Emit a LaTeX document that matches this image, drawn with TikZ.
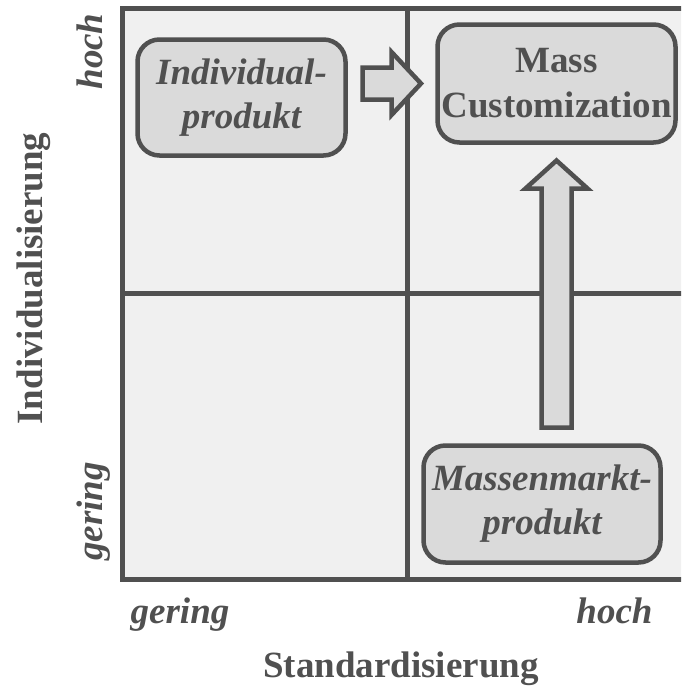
\documentclass[tikz,border=0pt]{standalone}
\usepackage{fontspec}
\setmainfont{Liberation Serif}
\definecolor{ink}{RGB}{80,80,80}
\definecolor{panel}{RGB}{240,240,240}
\definecolor{boxfill}{RGB}{218,218,218}
\begin{document}
\begin{tikzpicture}[x=1pt,y=-1pt,
  upright/.style={text=ink, font=\fontsize{37}{45}\selectfont\bfseries},
  slanted/.style={text=ink, font=\fontsize{37}{44}\selectfont\bfseries\itshape},
  quad/.style={draw=ink, line width=5pt},
  prodbox/.style={draw=ink, fill=boxfill, line width=4.5pt, rounded corners=22pt,
                  inner sep=0pt, align=center},
  blockarrow/.style={draw=ink, fill=boxfill, line width=4.5pt, line join=miter},
  scalelabel/.style={slanted, anchor=base},
]
\useasboundingbox (0,0) rectangle (681,694);

% portfolio grid (right edge runs past the page)
\begin{scope}
  \clip (0,0) rectangle (681,694);
  \draw[quad, fill=panel] (122.5,8.5) rectangle (691.5,579);
  \draw[quad] (407,8.5) -- (407,579);
  \draw[quad] (122.5,293) -- (691.5,293);
\end{scope}

% product types
\node[prodbox, slanted, minimum width=208pt, minimum height=116pt]
  (indiv) at (241.5,97.5) {Individual-\\produkt};
\node[prodbox, upright, minimum width=238pt, minimum height=118pt]
  (mass) at (556.5,83.5) {Mass\\Customization};
\node[prodbox, slanted, minimum width=237pt, minimum height=117pt]
  (markt) at (542,504) {Massenmarkt-\\produkt};

% development paths
\draw[blockarrow] (362.5,67.5) -- (391.5,67.5) -- (391.5,52) -- (421,83.5)
  -- (391.5,115) -- (391.5,99.5) -- (362.5,99.5) -- cycle;
\draw[blockarrow] (541.5,427.5) -- (541.5,188.5) -- (525.5,188.5) -- (556.5,160.5)
  -- (587.5,188.5) -- (571.5,188.5) -- (571.5,427.5) -- cycle;

% vertical axis
\node[upright, rotate=90, anchor=base] (yaxis) at (42,278.5) {Individualisierung};
\node[scalelabel, rotate=90] (yhigh) at (102,51.5) {hoch};
\node[scalelabel, rotate=90] (ylow) at (102,511.5) {gering};

% horizontal axis
\node[scalelabel] (xlow) at (180,623) {gering};
\node[scalelabel] (xhigh) at (614.5,623) {hoch};
\node[upright, anchor=base] (xaxis) at (401,677) {Standardisierung};
\end{tikzpicture}
\end{document}
